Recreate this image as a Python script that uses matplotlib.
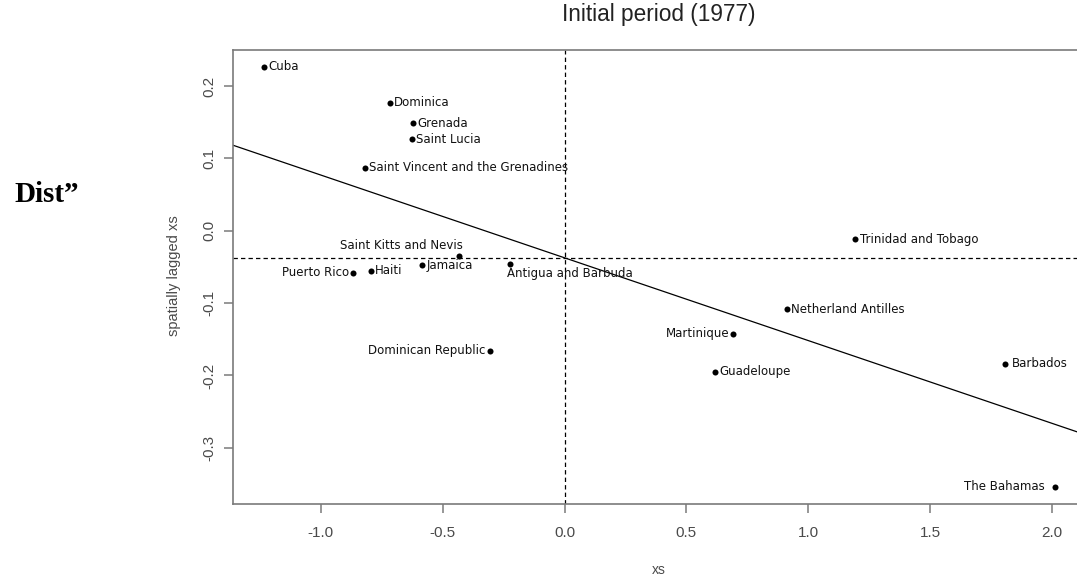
import numpy as np
import matplotlib
matplotlib.use("Agg")
import matplotlib.pyplot as plt
from matplotlib.transforms import offset_copy

# Moran scatterplot of standardised xs against its spatial lag, 1977
countries = [
    "Cuba", "Dominica", "Grenada", "Saint Lucia",
    "Saint Vincent and the Grenadines", "Saint Kitts and Nevis", "Jamaica",
    "Puerto Rico", "Haiti", "Antigua and Barbuda", "Dominican Republic",
    "Trinidad and Tobago", "Netherland Antilles", "Martinique", "Guadeloupe",
    "Barbados", "The Bahamas",
]
xs = [-1.232, -0.717, -0.621, -0.628, -0.821, -0.434, -0.584, -0.868, -0.796,
      -0.222, -0.307, 1.194, 0.9125, 0.693, 0.618, 1.810, 2.012]
lagged_xs = [0.2265, 0.1768, 0.1483, 0.1262, 0.0870, -0.0345, -0.0474, -0.0580,
             -0.0552, -0.0460, -0.1657, -0.0119, -0.1086, -0.1422, -0.1947,
             -0.1841, -0.3540]

x_ticks = [-1.0, -0.5, 0.0, 0.5, 1.0, 1.5, 2.0]
y_ticks = [-0.3, -0.2, -0.1, 0.0, 0.1, 0.2]

# label placement: (horizontal alignment, dx pt, dy pt, vertical alignment)
label_pos = {
    "Puerto Rico": ("right", -3, 0, "center"),
    "Dominican Republic": ("right", -3, 0, "center"),
    "Martinique": ("right", -3, 0, "center"),
    "The Bahamas": ("right", -7, 0, "center"),
    "Barbados": ("left", 4.5, 0, "center"),
    "Saint Kitts and Nevis": ("right", 3, 3, "bottom"),
    "Antigua and Barbuda": ("left", -2.5, -7, "center"),
}

x = np.array(xs)
y = np.array(lagged_xs)

W, H, DPI = 1077, 579, 100
fig = plt.figure(figsize=(W / DPI, H / DPI), dpi=DPI)
fig.patch.set_facecolor("white")

# plot box: left edge, bottom, right edge (past the canvas edge), top in pixels
left_px, right_px, top_px, bottom_px = 232.8, 1086.3, 50.0, 503.7
ax = fig.add_axes([left_px / W, 1 - bottom_px / H,
                   (right_px - left_px) / W, (bottom_px - top_px) / H])

spine_col = "#7a7a7a"
for s in ax.spines.values():
    s.set_color(spine_col)
    s.set_linewidth(1.2)

# axis ranges padded by 4% as in base graphics
pad = 0.04
xr = x.max() - x.min()
yr = y.max() - y.min()
ax.set_xlim(x.min() - pad * xr, x.max() + pad * xr)
ax.set_ylim(y.min() - pad * yr, y.max() + pad * yr)

# regression line and mean reference lines
slope, intercept = np.polyfit(x, y, 1)
ax.axline((0.0, intercept), slope=slope, color="black", lw=0.9)
ax.axhline(y.mean(), color="black", lw=0.9, ls=(0, (3.5, 2.5)))
ax.axvline(x.mean(), color="black", lw=0.9, ls=(0, (3.5, 2.5)))

ax.scatter(x, y, s=19, color="black", zorder=3, linewidths=0)

for name, xv, yv in zip(countries, x, y):
    ha, dx, dy, va = label_pos.get(name, ("left", 3, 0, "center"))
    tr = offset_copy(ax.transData, fig=fig, x=dx, y=dy, units="points")
    ax.text(xv, yv, name, transform=tr, ha=ha, va=va,
            fontsize=8.5, family="DejaVu Sans", color="#111111")

tick_font = dict(family="Liberation Sans", size=11, color="#4a4a4a")
ax.set_xticks(x_ticks)
ax.set_xticklabels([f"{v:.1f}" for v in x_ticks], **tick_font)
ax.set_yticks(y_ticks)
ax.set_yticklabels([f"{v:.1f}" for v in y_ticks], rotation=90,
                   va="center", **tick_font)
ax.tick_params(axis="both", length=6.5, width=1.1, color=spine_col)
ax.tick_params(axis="x", pad=9.5)
ax.tick_params(axis="y", pad=5.5)

fig.text(659 / W, 1 - 15 / H, "Initial period (1977)", ha="center",
         va="center", family="Liberation Sans", fontsize=16.3,
         color="#222222")
fig.text(659 / W, 1 - 570 / H, "xs", ha="center", va="center",
         family="Liberation Sans", fontsize=10, color="#4a4a4a")
fig.text(174 / W, 1 - 275.5 / H, "spatially lagged xs", ha="center",
         va="center", rotation=90, family="Liberation Sans", fontsize=10.5,
         color="#4a4a4a")

fig.text(14 / W, 1 - 195 / H, "Dist\u201d", ha="left", va="center",
         family="Liberation Serif", fontweight="bold", fontsize=21,
         color="black")

fig.savefig("out.png", dpi=DPI, facecolor="white")
